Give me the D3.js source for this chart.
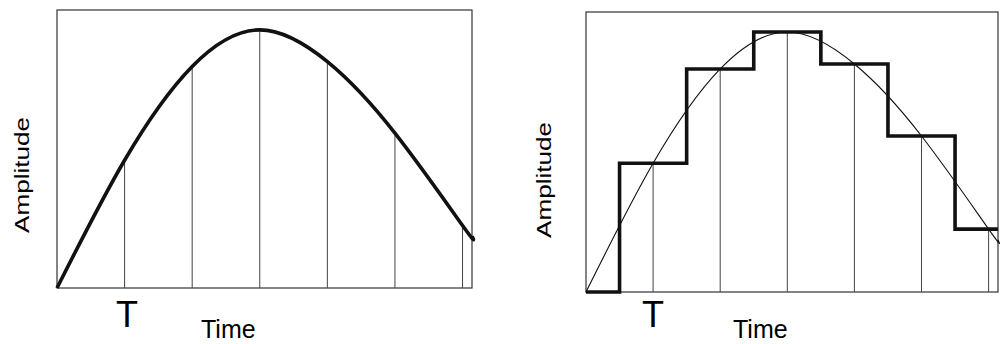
<!DOCTYPE html>
<html>
<head>
<meta charset="utf-8">
<script src="https://cdn.jsdelivr.net/npm/d3@7"></script>
<style>
    body { margin: 0; background: #fff; }
    text { font-family: "Liberation Sans", Arial, sans-serif; fill: #000; }
</style>
</head>
<body>
<script>
(function(){

//sample instants (in units of T) and the sampled amplitudes
var sampleTimes = [0, 1, 2, 3, 4, 5, 6];
var sampleAmps = [0, 0.495, 0.858, 1.0, 0.877, 0.6, 0.242];

//continuous waveform: the sample points plus where it leaves the frame
var waveTimes = [0, 1, 2, 3, 4, 5, 6, 6.14];
var waveAmps = [0, 0.495, 0.858, 1.0, 0.877, 0.6, 0.242, 0.2];

var tMax = 6.14,
    aMax = 1.077;

window.onload = setChart();

function setChart(){
    var width = 1003,
        height = 344;

    var svg = d3.select("body")
        .append("svg")
        .attr("width", width)
        .attr("height", height);

    //left panel: continuous signal
    var left = makePanel(svg, 57, 472, 10, 288, 29, 201, 127, 175);
    drawSampleLines(left);
    drawWave(left, 3.6);

    //right panel: sample and hold
    var right = makePanel(svg, 586, 998, 12, 292, 551, 733, 653, 180);
    drawSampleLines(right);
    drawWave(right, 1.1);
    drawSteps(right);
};

function makePanel(svg, x0, x1, y0, y1, labelX, timeX, tX, labelY){
    var x = d3.scaleLinear().domain([0, tMax]).range([x0, x1]);
    var y = d3.scaleLinear().domain([0, aMax]).range([y1, y0]);
    var g = svg.append("g");

    //frame
    g.append("rect")
        .attr("x", x0)
        .attr("y", y0)
        .attr("width", x1 - x0)
        .attr("height", y1 - y0)
        .style("fill", "none")
        .style("stroke", "#333")
        .style("stroke-width", 1.2);

    //axis titles
    g.append("text")
        .attr("transform", "translate(" + labelX + "," + labelY + ") rotate(-90)")
        .attr("text-anchor", "middle")
        .attr("textLength", 116)
        .attr("lengthAdjust", "spacingAndGlyphs")
        .style("font-size", "20px")
        .text("Amplitude");

    g.append("text")
        .attr("x", timeX)
        .attr("y", 338)
        .style("font-size", "25px")
        .text("Time");

    g.append("text")
        .attr("x", tX)
        .attr("y", 327)
        .attr("text-anchor", "middle")
        .style("font-size", "36px")
        .text("T");

    return {g: g, x: x, y: y};
};

function drawSampleLines(p){
    p.g.selectAll(".sampleLine")
        .data(sampleTimes.slice(1))
        .enter()
        .append("line")
        .attr("class", "sampleLine")
        .attr("x1", function(d){ return p.x(d); })
        .attr("x2", function(d){ return p.x(d); })
        .attr("y1", p.y(0))
        .attr("y2", function(d, i){ return p.y(sampleAmps[i + 1]); })
        .style("stroke", "#444")
        .style("stroke-width", 1);
};

function drawWave(p, w){
    var line = d3.line()
        .x(function(d){ return p.x(d[0]); })
        .y(function(d){ return p.y(d[1]); })
        .curve(d3.curveNatural);

    p.g.append("path")
        .datum(d3.zip(waveTimes, waveAmps))
        .attr("d", line)
        .style("fill", "none")
        .style("stroke", "#111")
        .style("stroke-width", w);
};

function drawSteps(p){
    //hold each sample for one period centred on it, to the right edge
    var pts = d3.zip(sampleTimes, sampleAmps);
    pts.push([tMax, sampleAmps[sampleAmps.length - 1]]);

    var line = d3.line()
        .x(function(d){ return p.x(d[0]); })
        .y(function(d){ return p.y(d[1]); })
        .curve(d3.curveStep);

    p.g.append("path")
        .datum(pts)
        .attr("d", line)
        .style("fill", "none")
        .style("stroke", "#111")
        .style("stroke-width", 3.6)
        .style("stroke-linejoin", "miter");
};

})();
</script>
</body>
</html>
